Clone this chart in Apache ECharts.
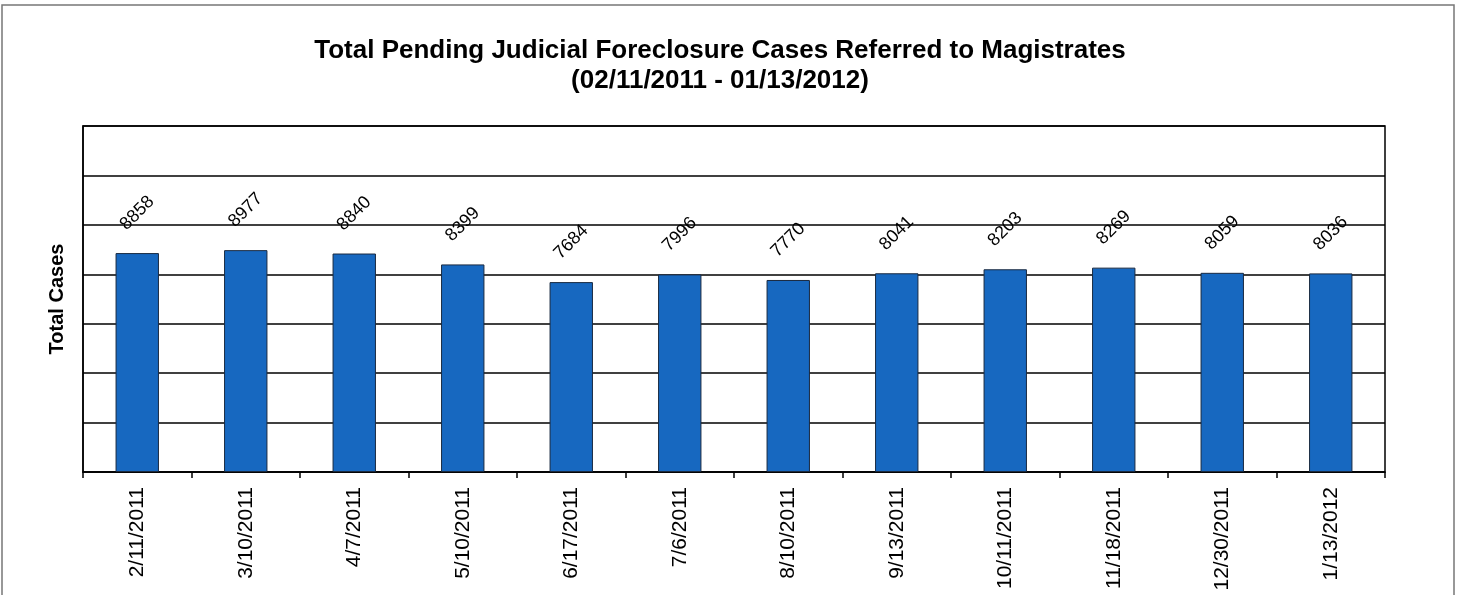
<!DOCTYPE html>
<html lang="en">
<head>
  <meta charset="UTF-8">
  <title>Pending Foreclosure Cases</title>
  <style>
    body{
      margin: 0;
    }
    .chart{
      width: 1458px;
      height: 595px;
      background: white;
    }
  </style>
</head>
<body>
<div class="chart"></div>
<script src="https://cdn.jsdelivr.net/npm/echarts@6/dist/echarts.min.js"></script>
<script>
  const dates = ['2/11/2011', '3/10/2011', '4/7/2011', '5/10/2011', '6/17/2011', '7/6/2011',
    '8/10/2011', '9/13/2011', '10/11/2011', '11/18/2011', '12/30/2011', '1/13/2012'];
  const cases = [8858, 8977, 8840, 8399, 7684, 7996, 7770, 8041, 8203, 8269, 8059, 8036];

  const container = document.querySelector('.chart');
  const instance = echarts.init(container);
  const option = {
    animation: false,
    title: {
      text: 'Total Pending Judicial Foreclosure Cases Referred to Magistrates\n(02/11/2011 - 01/13/2012)',
      left: 715,
      top: 31,
      textAlign: 'center',
      textStyle: {
        fontFamily: 'Liberation Sans, Arial, sans-serif',
        fontSize: 26,
        fontWeight: 'bold',
        color: '#000',
        lineHeight: 30
      }
    },
    graphic: [{
      type: 'rect',
      shape: {x: 2, y: 5, width: 1452, height: 600},
      style: {fill: 'none', stroke: '#777', lineWidth: 1.5},
      silent: true
    }],
    grid: {
      left: 83,
      right: 73,
      top: 126,
      bottom: 123,
      show: true,
      borderColor: '#000',
      borderWidth: 1.5
    },
    xAxis: {
      type: 'category',
      data: dates,
      axisLine: {lineStyle: {color: '#000', width: 1.5}},
      axisTick: {show: true, length: 6, lineStyle: {color: '#000', width: 1.5}},
      axisLabel: {
        rotate: 90,
        margin: 15,
        fontFamily: 'Liberation Sans, Arial, sans-serif',
        fontSize: 21,
        color: '#000'
      }
    },
    yAxis: {
      type: 'value',
      min: 0,
      max: 14000,
      interval: 2000,
      name: 'Total Cases',
      nameLocation: 'middle',
      nameGap: 16,
      nameTextStyle: {
        fontFamily: 'Liberation Sans, Arial, sans-serif',
        fontSize: 20,
        fontWeight: 'bold',
        color: '#000'
      },
      axisLine: {show: true, lineStyle: {color: '#000', width: 1.5}},
      axisTick: {show: false},
      axisLabel: {show: false},
      splitLine: {lineStyle: {color: '#000', width: 1.5}}
    },
    series: [
      {
        type: 'bar',
        data: cases,
        barWidth: '40%',
        itemStyle: {
          color: '#1768c0',
          borderColor: '#1a2a40',
          borderWidth: 1
        },
        label: {
          show: true,
          position: 'top',
          distance: 40,
          rotate: 45,
          align: 'center',
          verticalAlign: 'middle',
          fontFamily: 'Liberation Sans, Arial, sans-serif',
          fontSize: 18,
          color: '#000'
        }
      }
    ]
  };
  instance.setOption(option);
</script>
</body>
</html>
